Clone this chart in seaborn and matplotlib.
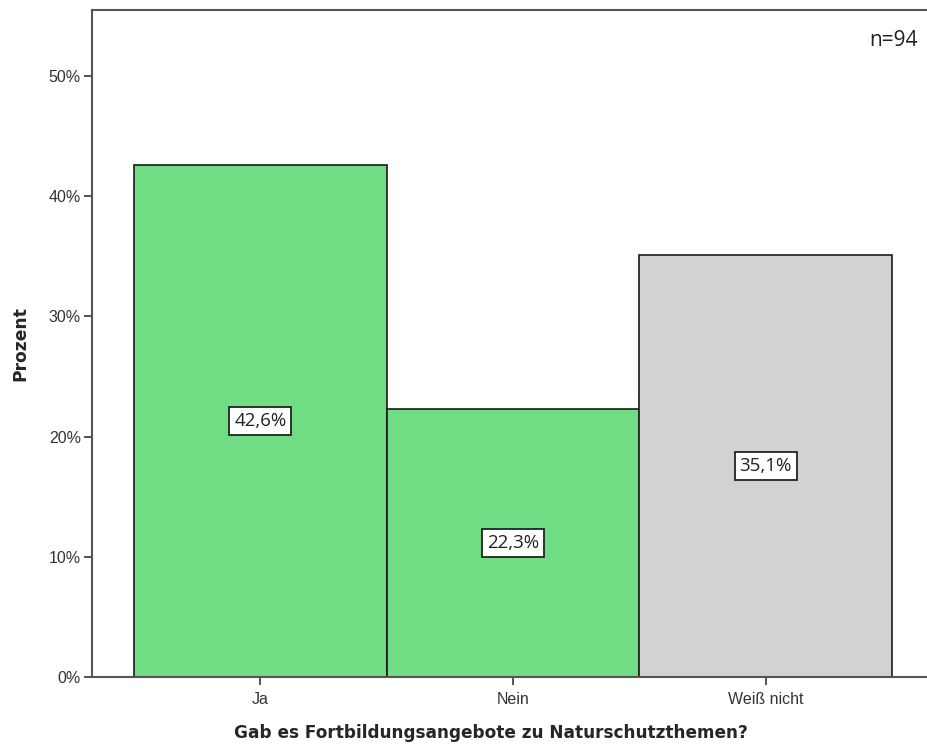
import matplotlib
matplotlib.use("Agg")
import matplotlib.pyplot as plt
import seaborn as sns
import pandas as pd

# Data
kategorien = ["Ja", "Nein", "Weiß nicht"]
prozent = [42.6, 22.3, 35.1]
farben = ["#70DC84", "#70DC84", "#D2D2D2"]
n_gesamt = 94

df = pd.DataFrame({"kategorie": kategorien, "prozent": prozent})

sns.set_style("white")
plt.rcParams["font.family"] = ["Liberation Sans", "DejaVu Sans"]

fig = plt.figure(figsize=(9.28, 7.49), dpi=100)
ax = fig.add_axes([92 / 928, 1 - 677 / 749, (934 - 92) / 928, (677 - 10) / 749])

sns.barplot(data=df, x="kategorie", y="prozent", hue="kategorie",
            palette=farben, width=1.0, edgecolor="#1a1a1a", linewidth=1.2,
            legend=False, saturation=1, ax=ax)

ax.set_xlim(-0.666, 2.666)
ax.set_ylim(0, 55.5)
ax.set_yticks([0, 10, 20, 30, 40, 50])
ax.set_yticklabels([f"{v}%" for v in [0, 10, 20, 30, 40, 50]], fontsize=11.5, color="#333333")
ax.set_xticks(range(len(kategorien)))
ax.set_xticklabels(kategorien, fontsize=11.5, color="#333333")
ax.tick_params(axis="y", direction="out", length=6, width=1.3, color="#444444", pad=2, left=True)
ax.tick_params(axis="x", direction="out", length=6, width=1.3, color="#444444", pad=5, bottom=True)

for side in ["left", "top", "bottom"]:
    ax.spines[side].set_color("#555555")
    ax.spines[side].set_linewidth(1.5)
ax.spines["right"].set_visible(False)

ax.set_ylabel("Prozent", fontsize=12.3, fontweight="bold", family="DejaVu Sans")
ax.yaxis.set_label_coords(-0.0745, 0.5)
ax.set_xlabel("Gab es Fortbildungsangebote zu Naturschutzthemen?", fontsize=12.2,
              fontweight="bold", family="DejaVu Sans")
ax.xaxis.set_label_coords(0.474, -0.071)

# Value labels in boxes at bar middle
for i, v in enumerate(prozent):
    ax.text(i, v / 2, f"{v:.1f}%".replace(".", ","), ha="center", va="center",
            fontsize=13.5, family="Open Sans", color="#222222",
            bbox=dict(boxstyle="square,pad=0.26", facecolor="white", edgecolor="#222222", linewidth=1.3))

fig.text(918 / 928, 1 - 40 / 749, f"n={n_gesamt}", ha="right", va="center",
         fontsize=15, family="Open Sans", color="#222222")

fig.savefig("out.png", dpi=100)
